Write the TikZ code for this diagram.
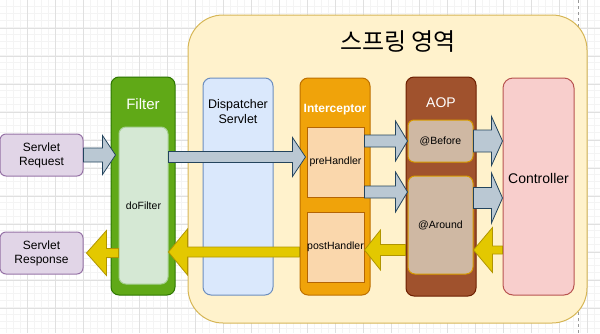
\documentclass[tikz,border=0pt]{standalone}
\usepackage{fontspec}
\setmainfont{Liberation Sans}
\newfontfamily\krfont{Noto Sans CJK KR}
\usetikzlibrary{calc}
\definecolor{gridminor}{RGB}{244,244,244}
\definecolor{gridmajor}{RGB}{224,224,224}
\definecolor{springfill}{HTML}{FFF2CC}
\definecolor{springline}{HTML}{D6B656}
\definecolor{reqfill}{HTML}{E1D5E7}
\definecolor{reqline}{HTML}{9673A6}
\definecolor{filterfill}{HTML}{60A917}
\definecolor{filterline}{HTML}{2D7600}
\definecolor{dofill}{HTML}{D5E8D4}
\definecolor{doline}{HTML}{A5CF91}
\definecolor{dispfill}{HTML}{DAE8FC}
\definecolor{displine}{HTML}{6C8EBF}
\definecolor{intfill}{HTML}{F0A30A}
\definecolor{intline}{HTML}{BD7000}
\definecolor{handfill}{HTML}{FAD7AC}
\definecolor{handline}{HTML}{B46504}
\definecolor{aopfill}{HTML}{A0522D}
\definecolor{aopline}{HTML}{6D1F00}
\definecolor{advfill}{HTML}{CFB8A3}
\definecolor{advline}{HTML}{D79B00}
\definecolor{ctrlfill}{HTML}{F8CECC}
\definecolor{ctrlline}{HTML}{B85450}
\definecolor{bluefill}{HTML}{BAC8D3}
\definecolor{blueline}{HTML}{23445D}
\definecolor{yelfill}{HTML}{E3C800}
\definecolor{yelline}{HTML}{B09500}
\tikzset{
  fat shaft/.store in=\fatshaft,
  fat head/.store in=\fathead,
  fat len/.store in=\fatlen,
  fat shaft=5pt, fat head=20pt, fat len=13pt,
  fatarrow/.style={
    line width=0.8pt,
    line join=miter,
    to path={
      let \p1=(\tikztostart), \p2=(\tikztotarget),
          \n1={\x2-sign(\x2-\x1)*\fatlen}
      in ({\x1},{\y1+\fatshaft}) -- ({\n1},{\y1+\fatshaft})
         -- ({\n1},{\y1+\fathead}) -- ({\x2},{\y1})
         -- ({\n1},{\y1-\fathead}) -- ({\n1},{\y1-\fatshaft})
         -- ({\x1},{\y1-\fatshaft}) -- cycle
    }
  },
  fatblue/.style={fatarrow, fill=bluefill, draw=blueline},
  fatyellow/.style={fatarrow, fill=yelfill, draw=yelline},
  minorgrid/.style={draw=gridminor, line width=0.6pt},
  majorgrid/.style={draw=gridmajor, line width=0.8pt},
  pageline/.style={draw=black!40, line width=0.7pt, dash pattern=on 3pt off 3pt},
  springbox/.style={
    draw=springline,
    fill=springfill,
    line width=1pt,
    rounded corners=35pt,
    minimum width=399pt,
    minimum height=308pt,
    inner sep=0pt
  },
  colbox/.style={
    line width=1pt,
    rounded corners=8pt,
    minimum width=70pt,
    minimum height=217pt,
    inner sep=0pt
  },
  innerbox/.style={
    line width=1pt,
    align=center,
    inner sep=0pt,
    font=\fontsize{10.5}{12}\selectfont
  },
  reqbox/.style={
    draw=reqline,
    fill=reqfill,
    line width=1pt,
    rounded corners=6pt,
    align=center,
    inner sep=0pt,
    minimum width=83pt,
    minimum height=42pt
  },
  headtxt/.style={inner sep=0pt, align=center}
}
\begin{document}
\begin{tikzpicture}[x=1pt, y=-1pt, font=\fontsize{12}{14}\selectfont]
\useasboundingbox (0,0) rectangle (600,333);
% background grid
\foreach \k in {0,...,86} \draw[minorgrid] ({-0.5+7*\k},0) -- ({-0.5+7*\k},333);
\foreach \k in {0,...,48} \draw[minorgrid] (0,{-0.5+7*\k}) -- (600,{-0.5+7*\k});
\foreach \k in {0,...,20} \draw[majorgrid] ({27.5+28*\k},0) -- ({27.5+28*\k},333);
\foreach \k in {0,...,11} \draw[majorgrid] (0,{28.5+28*\k}) -- (600,{28.5+28*\k});
\draw[pageline] (578,0) -- (578,333);

% spring area
\node[springbox] (spring) at (387.5,169) {};
\node[headtxt, font=\krfont\fontsize{24}{28}\selectfont] (springtitle) at (398,42) {스프링 영역};

% servlet request / response
\node[reqbox] (req) at (41.5,155) {Servlet\\Request};
\node[reqbox] (resp) at (41.5,253) {Servlet\\Response};

% filter
\node[colbox, fill=filterfill, draw=filterline, minimum width=64pt, minimum height=218pt] (filter) at (143,186) {};
\node[headtxt, text=white, font=\fontsize{15}{18}\selectfont] (filtertitle) at (143,104) {Filter};
\node[innerbox, fill=dofill, draw=doline, rounded corners=7pt, minimum width=49pt, minimum height=157pt] (dofilter) at (143.5,205.5) {doFilter};

% dispatcher servlet
\node[colbox, fill=dispfill, draw=displine] (disp) at (238,186.5) {};
\node[headtxt, font=\fontsize{12.5}{15}\selectfont] (disptitle) at (238,112) {Dispatcher\\Servlet};

% interceptor
\node[colbox, fill=intfill, draw=intline] (inter) at (335,186.5) {};
\node[headtxt, text=white, font=\bfseries\fontsize{12}{14}\selectfont] (intertitle) at (335,110) {Interceptor};
\node[innerbox, fill=handfill, draw=handline, minimum width=57pt, minimum height=70pt] (pre) at (335.5,162) {preHandler};
\node[innerbox, fill=handfill, draw=handline, minimum width=57pt, minimum height=70pt] (post) at (335.5,247) {postHandler};

% aop
\node[colbox, fill=aopfill, draw=aopline, minimum height=219pt] (aop) at (441,186.5) {};
\node[headtxt, text=white, font=\fontsize{14}{17}\selectfont] (aoptitle) at (441,103) {AOP};
\node[innerbox, fill=advfill, draw=advline, rounded corners=6pt, minimum width=65pt, minimum height=42pt] (before) at (440.5,141) {@Before};
\node[innerbox, fill=advfill, draw=advline, rounded corners=7pt, minimum width=65pt, minimum height=98pt] (around) at (440.5,225) {@Around};

% controller
\node[colbox, fill=ctrlfill, draw=ctrlline, minimum width=71pt, rounded corners=10pt] (ctrl) at (538.5,186.5) {};
\node[headtxt, font=\fontsize{14}{17}\selectfont] (ctrltitle) at (538.5,178) {Controller};

% request flow
\draw[fatblue, fat shaft=7pt, fat head=19.5pt, fat len=13pt] (req.east) to ([xshift=-3pt]dofilter.west);
\draw[fatblue, fat shaft=5.5pt, fat head=19.5pt, fat len=13pt] ([yshift=5pt]dofilter.east |- pre.west) to ([xshift=-1pt]pre.west);
\draw[fatblue, fat shaft=6pt, fat head=20pt, fat len=12pt] (pre.east |- before.west) to (before.west);
\draw[fatblue, fat shaft=6pt, fat head=20pt, fat len=12pt] ([yshift=-30pt]pre.east) to (around.west);
\draw[fatblue, fat shaft=11pt, fat head=24.5pt, fat len=11pt] (before.east) to (ctrl.west |- before.east);
\draw[fatblue, fat shaft=10.5pt, fat head=25pt, fat len=11pt] ([yshift=27pt]around.east) to (ctrl.west);

% response flow
\draw[fatyellow, fat shaft=4pt, fat head=22.5pt, fat len=19pt] ([yshift=-25pt]ctrl.west |- around.east) to (around.east);
\draw[fatyellow, fat shaft=5.5pt, fat head=20pt, fat len=16pt] ([yshift=-3pt]aop.west |- post.east) to (post.east);
\draw[fatyellow, fat shaft=5pt, fat head=23pt, fat len=19pt] ([yshift=-5pt]inter.west |- post.west) to (dofilter.east);
\draw[fatyellow, fat shaft=4.5pt, fat head=22.5pt, fat len=20pt] (dofilter.west |- resp.east) to ([xshift=3pt]resp.east);
\end{tikzpicture}
\end{document}
